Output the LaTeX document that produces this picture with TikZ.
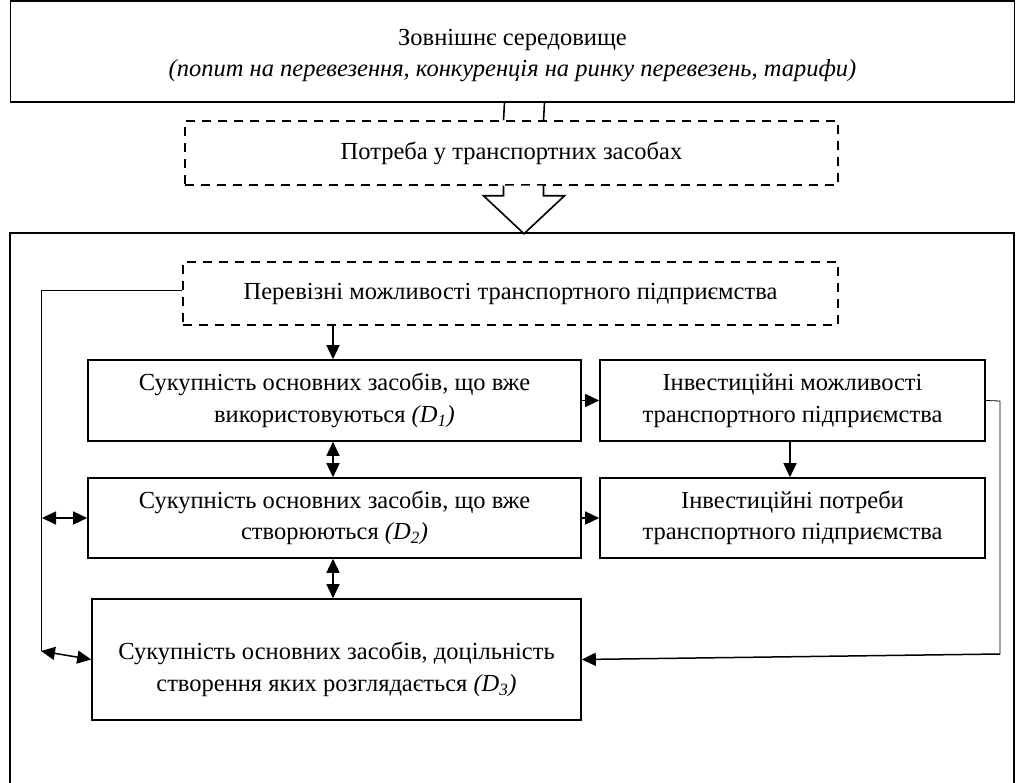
\documentclass[tikz,border=0pt]{standalone}
\usepackage{fontspec}
\setmainfont{Liberation Serif}
\usetikzlibrary{arrows.meta,calc}
\tikzset{
  solidbox/.style={draw, line width=1.6pt, inner sep=0pt, align=center},
  dashbox/.style={draw, line width=1.5pt, dash pattern=on 9pt off 7pt, inner sep=0pt, align=center},
  plaintext/.style={inner sep=0pt, align=center},
  thin/.style={line width=0.8pt},
  arr/.style={line width=1.5pt, -{Triangle[length=14pt,width=13pt]}},
  darr/.style={line width=1.5pt, {Triangle[length=14pt,width=13pt]}-{Triangle[length=14pt,width=13pt]}},
}
\newcommand{\Dsub}[1]{\textit{(D\textsubscript{\textit{#1}})}}
\begin{document}
\begin{tikzpicture}[x=1pt,y=-1pt,font=\fontsize{24.5}{31.5}\selectfont]
\useasboundingbox (0,0) rectangle (1017,783);
% top box
\node[solidbox, minimum width=1004pt, minimum height=101pt] (env) at (512.5,51.5) {};
\node[plaintext] (envtext) at ($(env.center)+(0,4)$)
  {Зовнішнє середовище\\ \textit{(попит на перевезення, конкуренція на ринку перевезень, тарифи)}};
% need box
\node[dashbox, minimum width=653pt, minimum height=64pt] (need) at (511.5,153) {Потреба у транспортних засобах};
% stub between env and need
\draw[line width=1.6pt] ($(env.south)+(-8,0)$) -- ($(need.north)+(-8,0)$);
\draw[line width=1.6pt] ($(env.south)+(32,0)$) -- ($(need.north)+(32,0)$);
% outer box
\coordinate (otl) at (10,233);
\coordinate (otr) at (1014,233);
\draw[line width=1.6pt] (10,783) -- (otl) -- (otr) -- (1014,783);
% hollow arrow
\draw[line width=1.6pt, fill=white] ($(need.south)+(-8,0)$) -- ($(need.south)+(-8,10)$) -- ($(need.south)+(-28,10)$)
  -- ($(need.south)+(12.5,48)$) -- ($(need.south)+(53,10)$) -- ($(need.south)+(32,10)$) -- ($(need.south)+(32,0)$);
% capacity box
\node[dashbox, minimum width=655pt, minimum height=63pt] (cap) at (510.5,293.5) {Перевізні можливості транспортного підприємства};
% D boxes
\node[solidbox, minimum width=493pt, minimum height=81pt] (d1) at (334.5,400.5)
  {Сукупність основних засобів, що вже\\ використовуються \Dsub{1}};
\node[solidbox, minimum width=385pt, minimum height=81pt] (i1) at (792.5,400.5)
  {Інвестиційні можливості\\ транспортного підприємства};
\node[solidbox, minimum width=493pt, minimum height=80pt] (d2) at (334.5,518)
  {Сукупність основних засобів, що вже\\ створюються \Dsub{2}};
\node[solidbox, minimum width=385pt, minimum height=80pt] (i2) at (792.5,518)
  {Інвестиційні потреби\\ транспортного підприємства};
\node[solidbox, minimum width=489pt, minimum height=121pt] (d3) at (336.5,659.5) {};
\node[plaintext] (d3text) at ($(d3.center)+(0,10)$)
  {Сукупність основних засобів, доцільність\\ створення яких розглядається \Dsub{3}};
% vertical arrows
\draw[arr] (cap.south -| 333,0) -- (d1.north -| 333,0);
\draw[darr] (d1.south -| 333,0) -- (d2.north -| 333,0);
\draw[darr] (d2.south -| 333,0) -- (d3.north -| 333,0);
\draw[arr] (i1.south -| 790,0) -- (i2.north -| 790,0);
% horizontal arrows
\draw[arr] (d1.east) -- (i1.west);
\draw[arr] (d2.east) -- (i2.west);
% left connector
\coordinate (lt) at (41,290);
\coordinate (lb) at (41,651);
\draw[thin] (cap.west |- 0,290) -- (lt) -- (lb);
\draw[darr] (42,518) -- (d2.west);
\draw[darr] (lb) -- (d3.west);
% right connector
\coordinate (rt) at (1000,401);
\coordinate (rb) at (1000,654);
\draw[thin] (i1.east) -- (rt) -- (rb);
\draw[arr] (rb) -- (d3.east);
\end{tikzpicture}
\end{document}
